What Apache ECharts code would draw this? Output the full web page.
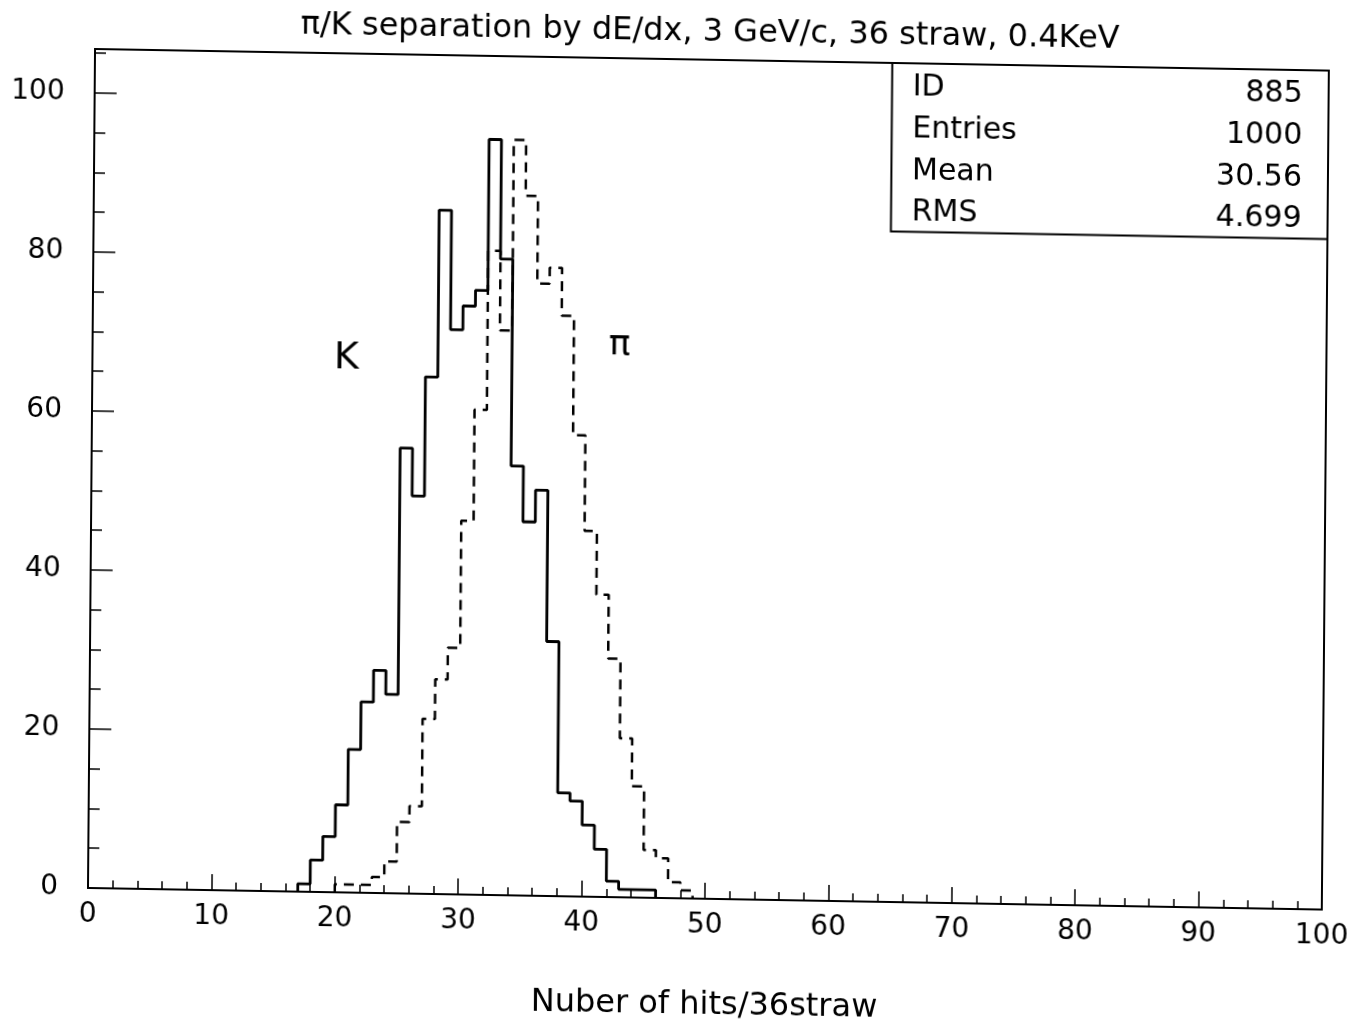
<!DOCTYPE html>
<html><head><meta charset="utf-8">
<script src="https://cdn.jsdelivr.net/npm/echarts@6/dist/echarts.min.js"></script>
<style>
html,body{margin:0;padding:0;background:#fff;overflow:hidden;}
#chart{width:1360px;height:1021px;transform-origin:88px 888px;transform:matrix(1,0.0175,-0.0084,1,0,0);}
</style></head><body><div id="chart"></div>
<script>
// ---- data ----
const titleText = 'π/K separation by dE/dx, 3 GeV/c, 36 straw, 0.4KeV';
const xAxisTitle = 'Nuber of hits/36straw';
const xTickLabels = ['0','10','20','30','40','50','60','70','80','90','100'];
const yTickLabels = ['0','20','40','60','80','100'];
// K histogram (solid), bins of width 1 starting at kStart
const kStart = 17;
const kCounts = [1,4,7,11,18,24,28,25,56,50,65,86,71,74,76,95,80,54,47,51,32,13,12,9,6,2,1,1,1];
// pi histogram (dashed), bins of width 1 starting at piStart
const piStart = 20;
const piCounts = [1,1,1,2,4,9,11,22,27,31,47,61,81,71,95,88,77,79,73,58,46,38,30,20,14,6,5,2,1];
const statLabels = ['ID','Entries','Mean','RMS'];
const statValues = ['885','1000','30.56','4.699'];
const kLabel = 'K';
const piLabel = 'π';

function stepData(start, counts){
  const pts = [[start, 0]];
  counts.forEach((c, i) => pts.push([start + i, c]));
  pts.push([start + counts.length, 0]);
  return pts;
}

const FONT = 'DejaVu Sans';
const chart = echarts.init(document.getElementById('chart'), null, {renderer:'canvas'});

const graphics = [
  {type:'text', x:703, y:22, style:{text:titleText, font:'32px "DejaVu Sans"', fill:'#000', textAlign:'center', textVerticalAlign:'middle'}},
  {type:'rect', shape:{x:885.4, y:49, width:436.6, height:168.6}, style:{fill:'none', stroke:'#000', lineWidth:2}},
  {type:'text', x:342, y:354, style:{text:kLabel, font:'38px "DejaVu Sans"', fill:'#000', textAlign:'center', textVerticalAlign:'middle'}},
  {type:'text', x:615, y:337, style:{text:piLabel, font:'36px "DejaVu Sans"', fill:'#000', textAlign:'center', textVerticalAlign:'middle'}}
];
const rowY = [73, 115, 157, 198];
statLabels.forEach((s, i) => {
  graphics.push({type:'text', x:906, y:rowY[i], style:{text:s, font:'30px "DejaVu Sans"', fill:'#000', textAlign:'left', textVerticalAlign:'middle'}});
  graphics.push({type:'text', x:1296, y:rowY[i], style:{text:statValues[i], font:'30px "DejaVu Sans"', fill:'#000', textAlign:'right', textVerticalAlign:'middle'}});
});

chart.setOption({
  animation:false,
  backgroundColor:'#fff',
  grid:{left:88, right:38, top:49, bottom:133, show:true, borderColor:'#000', borderWidth:2, backgroundColor:'transparent'},
  xAxis:{
    type:'value', min:0, max:100, interval:10,
    axisLine:{show:true, lineStyle:{color:'#000', width:2}},
    axisTick:{show:true, inside:true, length:16, lineStyle:{color:'#000', width:1.5}},
    minorTick:{show:true, splitNumber:5, length:8, lineStyle:{color:'#000', width:1.5}},
    splitLine:{show:false},
    axisLabel:{color:'#000', fontFamily:FONT, fontSize:28, margin:13, formatter:v => xTickLabels[Math.round(v/10)]},
    name:xAxisTitle, nameLocation:'middle', nameGap:91,
    nameTextStyle:{color:'#000', fontFamily:FONT, fontSize:32}
  },
  yAxis:{
    type:'value', min:0, max:105.5, interval:20,
    axisLine:{show:true, lineStyle:{color:'#000', width:2}},
    axisTick:{show:true, inside:true, length:22, lineStyle:{color:'#000', width:1.5}},
    minorTick:{show:true, splitNumber:4, length:11, lineStyle:{color:'#000', width:1.5}},
    splitLine:{show:false},
    axisLabel:{color:'#000', fontFamily:FONT, fontSize:28, margin:30, showMaxLabel:false, formatter:v => (v % 20 === 0 ? yTickLabels[v/20] : '')}
  },
  graphic:graphics,
  series:[
    {type:'line', name:'pi', step:'end', data:stepData(piStart, piCounts), showSymbol:false, symbol:'none',
     lineStyle:{color:'#000', width:2.5, type:[10,7]}, z:2},
    {type:'line', name:'K', step:'end', data:stepData(kStart, kCounts), showSymbol:false, symbol:'none',
     lineStyle:{color:'#000', width:2.8}, z:3}
  ]
});
</script></body></html>
